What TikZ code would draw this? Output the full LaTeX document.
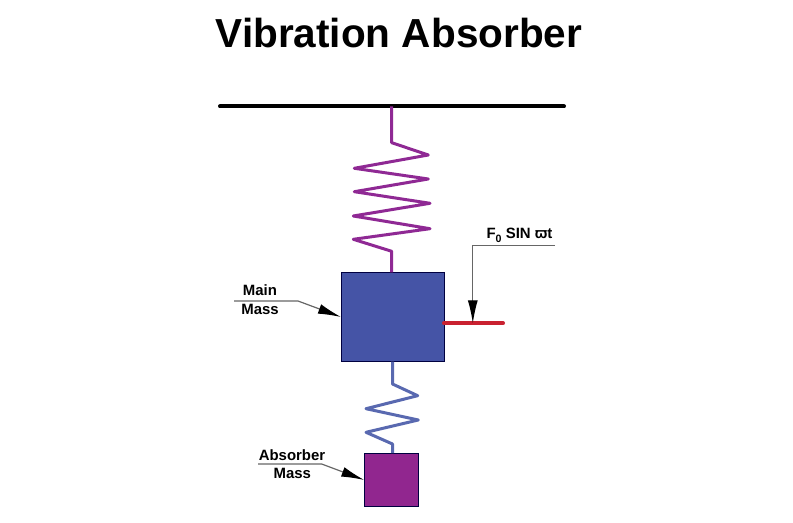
\documentclass[tikz,border=0pt]{standalone}
\usepackage{fontspec}
\setmainfont{Liberation Sans}
\usetikzlibrary{arrows.meta}
\newlength{\du}
\setlength{\du}{0.75pt}
\definecolor{springviolet}{rgb}{0.560000, 0.160000, 0.580000}
\definecolor{springblue}{rgb}{0.350000, 0.410000, 0.690000}
\definecolor{mainblue}{rgb}{0.270000, 0.330000, 0.650000}
\definecolor{absorberviolet}{rgb}{0.570000, 0.150000, 0.560000}
\definecolor{forcered}{rgb}{0.790000, 0.130000, 0.190000}
\tikzset{
  massbox/.style={draw=black!75!blue, line width=1\du, inner sep=0pt, outer sep=0pt},
  spring/.style={line width=3\du, line join=round},
  leader/.style={draw=black!60, line width=1.2\du, -{Latex[black, length=17.25pt, width=7.5pt]}},
  callout/.style={font=\bfseries\fontsize{11.2pt}{12pt}\selectfont, inner sep=0pt}
}
\begin{document}
\begin{tikzpicture}
\pgftransformxscale{1.000000}
\pgftransformyscale{-1.000000}
\useasboundingbox (0\du,0\du) rectangle (793\du,523\du);
\node[font=\bfseries\fontsize{30.4pt}{34pt}\selectfont, inner sep=0pt] (title) at (399\du,33.5\du){Vibration Absorber};
% ceiling
\coordinate (ceilingleft) at (220\du,106.5\du);
\coordinate (ceilingright) at (564\du,106.5\du);
\coordinate (ceilingpoint) at (391.7\du,106.5\du);
\draw[line width=4\du, line cap=round] (ceilingleft)--(ceilingright);
% masses
\node[massbox, fill=mainblue, minimum width=103\du, minimum height=89.4\du] (mainmass) at (392.5\du,317\du){};
\node[massbox, fill=absorberviolet, minimum width=54.4\du, minimum height=53.7\du] (absorbermass) at (391.5\du,480\du){};
% springs
\coordinate (mainbend) at (391.7\du,251.3\du);
\coordinate (absorberbend) at (392.5\du,444\du);
\draw[spring, draw=springviolet] (ceilingpoint)--(391.7\du,142.7\du)--(428.3\du,155\du)--(354.3\du,168.3\du)--(428.3\du,179\du)--(354.3\du,191.7\du)--(430\du,203.3\du)--(353.3\du,216\du)--(430\du,228.7\du)--(353.3\du,239.3\du)--(mainbend)--(mainbend |- mainmass.north);
\draw[spring, draw=springblue] (mainmass.south)--(392.5\du,384\du)--(417.7\du,395.7\du)--(366\du,408.7\du)--(418.3\du,420\du)--(366\du,432.3\du)--(absorberbend)--(absorberbend |- absorbermass.north);
% force
\coordinate (forceend) at (503\du,323.3\du);
\coordinate (forcepoint) at (472.8\du,323.3\du);
\draw[line width=4\du, draw=forcered, line cap=round] (mainmass.east |- forceend)--(forceend);
\coordinate (forcestart) at (555\du,245.3\du);
\coordinate (forceelbow) at (472.8\du,245.3\du);
\draw[leader] (forcestart)--(forceelbow)--(forcepoint);
\node[callout, anchor=base] (forcelabel) at (519.5\du,239\du){F\raisebox{-0.22em}{\fontsize{8pt}{8pt}\selectfont 0} SIN \char"03D6 t};
% labels
\node[callout] (mainlabelup) at (260\du,290\du){Main};
\node[callout] (mainlabeldown) at (260\du,309\du){Mass};
\coordinate (mainstart) at (234\du,301\du);
\coordinate (mainelbow) at (298\du,301\du);
\draw[leader] (mainstart)--(mainelbow)--(mainmass.west);
\node[callout] (absorberlabelup) at (292\du,455\du){Absorber};
\node[callout] (absorberlabeldown) at (292.3\du,473\du){Mass};
\coordinate (absorberstart) at (258\du,464\du);
\coordinate (absorberelbow) at (321.7\du,464\du);
\draw[leader] (absorberstart)--(absorberelbow)--(absorbermass.west);
\end{tikzpicture}
\end{document}
